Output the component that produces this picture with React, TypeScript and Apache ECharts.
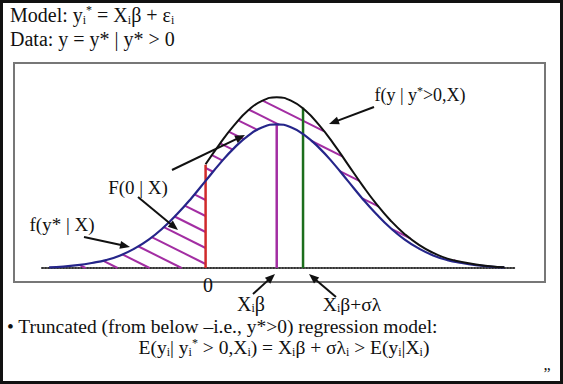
import React, { useEffect, useRef } from "react";
import * as echarts from "echarts";

// Latent density f(y*|X) (x in sigma units, 0 = truncation point)
const blueX = [-2.2, -2.0, -1.8, -1.6, -1.4, -1.2, -1.0, -0.8, -0.6, -0.4, -0.2, 0.0, 0.2, 0.4, 0.6, 0.8, 1.0, 1.2, 1.4, 1.6, 1.8, 2.0, 2.2, 2.4, 2.6, 2.8, 3.0, 3.2, 3.4, 3.6, 3.8, 4.0, 4.2];
const blueY = [0.002, 0.004, 0.008, 0.014, 0.022, 0.035, 0.054, 0.079, 0.111, 0.150, 0.194, 0.242, 0.290, 0.333, 0.368, 0.391, 0.399, 0.391, 0.368, 0.333, 0.290, 0.242, 0.194, 0.150, 0.111, 0.079, 0.054, 0.035, 0.022, 0.014, 0.008, 0.004, 0.002];
// Truncated density f(y|y*>0,X)
const truncX = [0.0, 0.2, 0.4, 0.6, 0.8, 1.0, 1.2, 1.4, 1.6, 1.8, 2.0, 2.2, 2.4, 2.6, 2.8, 3.0, 3.2, 3.4, 3.6, 3.8, 4.0, 4.2];
const truncY = [0.288, 0.345, 0.396, 0.438, 0.465, 0.474, 0.465, 0.438, 0.396, 0.345, 0.288, 0.231, 0.178, 0.132, 0.094, 0.064, 0.042, 0.026, 0.017, 0.010, 0.005, 0.002];
// Vertical markers: truncation point, X_i beta, X_i beta + sigma lambda
const markerNames = ["0", "Xβ", "Xβ+σλ"];
const markerX = [0.0, 1.0, 1.37];
const markerTop = [0.287, 0.399, 0.445];
const xMin = -2.3;
const xMax = 4.35;
const yMax = 0.5;

const SERIF = "'Liberation Serif', 'Times New Roman', serif";
const INK = "#111";
const HATCH = "#a32ea3";

const richStyles = {
  sub: { fontSize: 12, fontFamily: SERIF, fill: INK, verticalAlign: "bottom" },
  sup: { fontSize: 12, fontFamily: SERIF, fill: INK, verticalAlign: "top" },
};

function txt(text: string, x: number, y: number, size: number, align = "left", lh = size + 3) {
  return {
    type: "text",
    x,
    y,
    z: 100,
    style: {
      text,
      rich: richStyles,
      fontSize: size,
      fontFamily: SERIF,
      fill: INK,
      lineHeight: lh,
      align,
      textAlign: align,
      verticalAlign: "middle",
      textVerticalAlign: "middle",
    },
  };
}

function arrow(x1: number, y1: number, x2: number, y2: number) {
  const dx = x2 - x1;
  const dy = y2 - y1;
  const L = Math.hypot(dx, dy);
  const ux = dx / L;
  const uy = dy / L;
  const hl = 10;
  const hw = 4;
  const bx = x2 - ux * hl;
  const by = y2 - uy * hl;
  return [
    { type: "line", z: 100, shape: { x1, y1, x2: bx + ux * 2, y2: by + uy * 2 }, style: { stroke: INK, lineWidth: 2 } },
    {
      type: "polygon",
      z: 100,
      shape: { points: [[x2, y2], [bx - uy * hw, by + ux * hw], [bx + uy * hw, by - ux * hw]] },
      style: { fill: INK },
    },
  ];
}

function hatchRender(params: any, api: any) {
  if (params.dataIndex !== 0) return null;
  const bp = blueX.map((x, i) => api.coord([x, blueY[i]]));
  const tp = truncX.map((x, i) => api.coord([x, truncY[i]]));
  const cut = markerX[0];
  const o = api.coord([cut, 0]);
  const left: number[][] = [];
  blueX.forEach((x, i) => {
    if (x <= cut) left.push(bp[i]);
  });
  left.push(o);
  left.push(api.coord([blueX[0], 0]));
  const mid: number[][] = [...tp];
  for (let i = blueX.length - 1; i >= 0; i--) if (blueX[i] >= cut) mid.push(bp[i]);
  const k = 0.5;
  const step = 16;
  const c0 = o[1] - k * o[0] - 4;
  const children: any[] = [];
  for (const poly of [left, mid]) {
    for (let n = -30; n <= 30; n++) {
      const c = c0 + n * step;
      const xs: number[] = [];
      for (let j = 0; j < poly.length; j++) {
        const p = poly[j];
        const q = poly[(j + 1) % poly.length];
        const fp = p[1] - k * p[0] - c;
        const fq = q[1] - k * q[0] - c;
        if (fp < 0 !== fq < 0) {
          const t = fp / (fp - fq);
          xs.push(p[0] + t * (q[0] - p[0]));
        }
      }
      xs.sort((a, b) => a - b);
      for (let m = 0; m + 1 < xs.length; m += 2) {
        const x1 = xs[m];
        const x2 = xs[m + 1];
        if (x2 - x1 < 3) continue;
        children.push({
          type: "line",
          shape: { x1, y1: k * x1 + c, x2, y2: k * x2 + c },
          style: { stroke: HATCH, lineWidth: 2 },
        });
      }
    }
  }
  return { type: "group", children };
}

export default function App() {
  const ref = useRef<HTMLDivElement>(null);
  useEffect(() => {
    if (!ref.current) return;
    const chart = echarts.init(ref.current, null, { renderer: "svg" });
    const markerColors = ["#d02a2a", HATCH, "#1c6e1c"];
    const option: any = {
      animation: false,
      backgroundColor: "#fff",
      grid: { left: 42, right: 48, top: 88, bottom: 116 },
      xAxis: {
        type: "value",
        min: xMin,
        max: xMax,
        axisLine: { show: true, lineStyle: { color: "#333", width: 2, type: [1.2, 1.8] } },
        axisTick: { show: false },
        axisLabel: { show: false },
        splitLine: { show: false },
      },
      yAxis: {
        type: "value",
        min: 0,
        max: yMax,
        show: false,
        splitLine: { show: false },
      },
      series: [
        {
          type: "custom",
          name: "hatch",
          renderItem: hatchRender,
          data: [[0, 0]],
          silent: true,
          z: 1,
        },
        {
          type: "line",
          name: "f(y*|X)",
          data: blueX.map((x, i) => [x, blueY[i]]),
          smooth: true,
          symbol: "none",
          lineStyle: { color: "#25258a", width: 2.2 },
          z: 4,
        },
        {
          type: "line",
          name: "f(y|y*>0,X)",
          data: truncX.map((x, i) => [x, truncY[i]]),
          smooth: true,
          symbol: "none",
          lineStyle: { color: INK, width: 2 },
          z: 4,
        },
        ...markerX.map((x, i) => ({
          type: "line",
          name: markerNames[i],
          data: [
            [x, 0],
            [x, markerTop[i]],
          ],
          symbol: "none",
          lineStyle: { color: markerColors[i], width: 2.5 },
          z: 3,
        })),
      ],
      graphic: [
        { type: "rect", z: 50, shape: { x: 1.5, y: 1.5, width: 560, height: 381 }, style: { fill: "transparent", stroke: "#111", lineWidth: 3 } },
        { type: "rect", z: 50, shape: { x: 14, y: 63, width: 531, height: 219 }, style: { fill: "transparent", stroke: "#777", lineWidth: 2 } },
        txt("Model: y{sub|i}{sup|*} = X{sub|i}β + ε{sub|i}", 10, 15, 20, "left", 22),
        txt("Data: y = y* | y* > 0", 10, 39, 20, "left", 22),
        txt("f(y | y{sup|*}>0,X)", 420, 95, 18, "center"),
        txt("F(0 | X)", 138, 187, 19, "center"),
        txt("f(y* | X)", 62, 224, 19, "center"),
        txt("0", 208, 285, 20, "center", 20),
        txt("X{sub|i}β", 251, 304, 20, "center", 20),
        txt("X{sub|i}β+σλ", 352, 304, 19.5, "center", 20),
        txt("• Truncated (from below –i.e., y*>0) regression model:", 7, 326, 19.5, "left", 20),
        txt("E(y{sub|i}| y{sub|i}{sup|*} > 0,X{sub|i}) = X{sub|i}β + σλ{sub|i} > E(y{sub|i}|X{sub|i})", 284, 347.5, 19.5, "center", 21),
        txt("”", 547, 373, 16, "center"),
        ...arrow(374, 107, 329, 124),
        ...arrow(172, 170, 245, 135),
        ...arrow(138, 197, 178, 230),
        ...arrow(84, 237, 130, 247),
        ...arrow(253, 294, 275, 274),
        ...arrow(336, 297, 309, 274),
      ],
    };
    chart.setOption(option);
    return () => chart.dispose();
  }, []);
  return <div ref={ref} style={{ position: "fixed", left: 0, top: 0, width: 563, height: 384 }} />;
}
